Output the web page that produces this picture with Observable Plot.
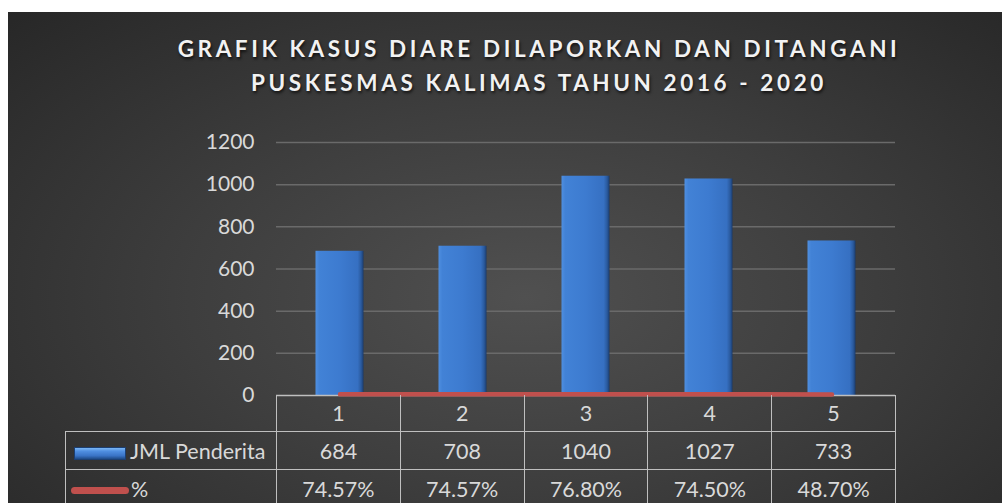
<!DOCTYPE html>
<html><head><meta charset="utf-8">
<script src="https://cdn.jsdelivr.net/npm/d3@7"></script>
<script src="https://cdn.jsdelivr.net/npm/@observablehq/plot@0.6"></script>
<style>
body{margin:0;background:#fff;width:1002px;height:503px;overflow:hidden;font-family:Lato,sans-serif;}
#panel{position:absolute;left:8px;top:12px;width:994px;height:491px;overflow:hidden;
  background:radial-gradient(ellipse 75% 85% at 52% 58%, #505050 0%, #3e3e3e 45%, #262626 100%);}
#title{position:absolute;left:81px;width:900px;top:20px;text-align:center;color:#f2f2f2;font-weight:700;
  font-size:22.5px;letter-spacing:3.6px;line-height:34px;text-shadow:1px 2px 3px rgba(0,0,0,0.7);}
#chart{position:absolute;left:0;top:0;}
#tbl{position:absolute;border-collapse:collapse;color:#d9d9d9;font-size:21.5px;table-layout:fixed;}
#tbl td{border:1.5px solid #bfbfbf;text-align:center;padding:0;white-space:nowrap;}
#tbl tr.r0 td{border-top:none;height:36px;}
#tbl tr.r0 td.blank{border:none;border-right:1.5px solid #bfbfbf;}
#tbl tr.r1 td,#tbl tr.r2 td{height:37px;}
#tbl td.lab{text-align:left;}
.sw-bar{display:inline-block;width:52px;height:13px;margin:0 4px 0 8px;vertical-align:-1px;
  background:linear-gradient(#7ab6f5 0%,#4f8ee0 30%,#3a74c6 70%,#1f4a85 100%);border:1px solid #1c3f72;box-sizing:border-box;}
.sw-line{display:inline-block;width:58px;height:7px;margin:0 2px 0 5px;border-radius:4px;background:#c0504d;vertical-align:3px;}
</style></head>
<body>
<div id="panel">
  <div id="chart"></div>
  <div id="title"></div>
  <table id="tbl"></table>
</div>
<script>
const titleLines = ["GRAFIK KASUS DIARE DILAPORKAN DAN DITANGANI", "PUSKESMAS KALIMAS TAHUN 2016 - 2020"];
const categories = ["1", "2", "3", "4", "5"];
const jml = [684, 708, 1040, 1027, 733];
const pct = [0.7457, 0.7457, 0.7680, 0.7450, 0.4870];
const pctLabels = ["74.57%", "74.57%", "76.80%", "74.50%", "48.70%"];
const yTicks = [0, 200, 400, 600, 800, 1000, 1200];
const seriesNames = ["JML Penderita", "%"];

const rows = categories.map((c, i) => ({cat: c, jml: jml[i], pct: pct[i]}));

document.getElementById("title").innerHTML = titleLines.join("<br>");

const plot = Plot.plot({
  width: 994, height: 491,
  marginLeft: 268, marginRight: 107, marginTop: 130, marginBottom: 108,
  style: {background: "transparent", color: "#d9d9d9", fontFamily: "Lato, sans-serif", fontSize: "21px", overflow: "visible"},
  x: {domain: categories, padding: 0, axis: null},
  y: {domain: [0, 1200], ticks: yTicks, tickSize: 0, tickPadding: 22, tickFormat: d => String(d), label: null},
  marks: [
    Plot.ruleY(yTicks.filter(d => d > 0), {stroke: "#6a6a6a", strokeWidth: 1.5}),
    Plot.barY(rows, {x: "cat", y: "jml", fill: "url(#barGrad)", insetLeft: 37.5, insetRight: 37.5}),
    Plot.tickY(rows, {x: "cat", y: "jml", stroke: "url(#capGrad)", strokeWidth: 7, dy: 3.5, insetLeft: 40, insetRight: 40}),
    Plot.ruleY([0], {stroke: "#bfbfbf", strokeWidth: 1.5}),
    Plot.lineY(rows, {x: "cat", y: "pct", stroke: "#c0504d", strokeWidth: 4.5, dy: -1})
  ]
});

const svg = d3.select(plot);
const defs = svg.insert("defs", ":first-child");
const g1 = defs.append("linearGradient").attr("id", "barGrad").attr("x1", 0).attr("x2", 1).attr("y1", 0).attr("y2", 0);
[[0, "#4f8fe0"], [0.08, "#4282d6"], [0.5, "#3d7bd0"], [0.88, "#3670c2"], [0.95, "#2a5a9e"], [1, "#1a3b6c"]]
  .forEach(([o, c]) => g1.append("stop").attr("offset", o).attr("stop-color", c));
const g2 = defs.append("linearGradient").attr("id", "capGrad").attr("x1", 0).attr("x2", 1).attr("y1", 0).attr("y2", 0);
[[0, "#5f9fe8"], [0.5, "#6aa8ee"], [1, "#5a98e2"]]
  .forEach(([o, c]) => g2.append("stop").attr("offset", o).attr("stop-color", c));

document.getElementById("chart").appendChild(plot);

// data table aligned to the x band scale
const xs = plot.scale("x");
const step = (xs.range[1] - xs.range[0]) / categories.length;
const labW = 211;
const tbl = document.getElementById("tbl");
tbl.style.left = (xs.range[0] - labW) + "px";
tbl.style.top = (491 - 108) + "px";
let html = `<colgroup><col style="width:${labW}px">` + categories.map(() => `<col style="width:${step}px">`).join("") + `</colgroup>`;
html += `<tr class="r0"><td class="blank"></td>` + categories.map(c => `<td>${c}</td>`).join("") + `</tr>`;
html += `<tr class="r1"><td class="lab"><span class="sw-bar"></span>${seriesNames[0]}</td>` + jml.map(v => `<td>${v}</td>`).join("") + `</tr>`;
html += `<tr class="r2"><td class="lab"><span class="sw-line"></span>${seriesNames[1]}</td>` + pctLabels.map(v => `<td>${v}</td>`).join("") + `</tr>`;
tbl.innerHTML = html;
tbl.style.width = (labW + step * categories.length) + "px";
</script>
</body></html>
